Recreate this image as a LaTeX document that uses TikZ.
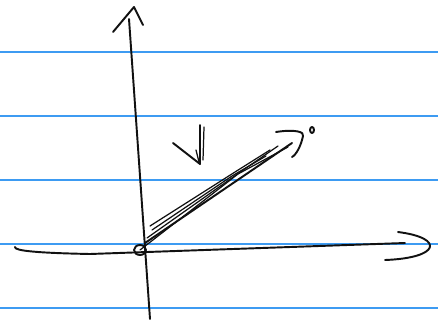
\documentclass[tikz,border=0pt]{standalone}
\usepackage{tikz}
\usetikzlibrary{positioning}
\definecolor{clinea}{HTML}{3D9BF2}
\definecolor{ctinta}{HTML}{111111}
\tikzset{
  renglon/.style={draw=clinea, line width=0.8pt},
  trazo/.style={draw=ctinta, line width=1.1pt, line cap=round, line join=round},
  trazof/.style={draw=ctinta, line width=0.7pt, line cap=round},
}
\begin{document}
\begin{tikzpicture}[x=0.02cm, y=-0.02cm]
  \useasboundingbox (0,0) rectangle (438,324);
  % renglones del cuaderno
  \foreach \y in {52,116,180,244,308}
    \draw[renglon] (0,\y) -- (438,\y);
  % ejes
  \coordinate (o) at (140,250);
  \coordinate (ytop) at (129,19);
  \coordinate (xend) at (405,243);
  \draw[trazo] (150,319) -- (ytop);
  \draw[trazo] (113,32) -- (134,7) -- (143,25);
  \draw[trazo] (15,247) .. controls (14,251) and (40,253) .. (90,254) -- (xend);
  \draw[trazo] (398,232) .. controls (445,238) and (440,258) .. (385,260);
  % origen
  \draw[trazo] (o) ellipse (6 and 5);
  % vector
  \coordinate (vtip) at (292,143);
  \draw[trazo] (145,243) -- (vtip);
  \draw[trazof] (150,226) -- (235,172) -- (270,150);
  \draw[trazof] (147,238) -- (236,175) -- (278,146);
  \draw[trazof] (152,230) -- (232,176) -- (266,156);
  \draw[trazof] (140,250) -- (238,174) -- (288,147);
  \draw[trazo] (276,132) .. controls (295,129) and (305,132) .. (303,136)
    .. controls (301,146) and (296,155) .. (292,157);
  \draw[trazo] (312,130) ellipse (2 and 3);
  % etiqueta v
  \draw[trazo] (173,143) -- (200,164) -- (200,125);
  \draw[trazof] (204,127) -- (203,160);
  \draw[trazof] (196,150) -- (199,162);
\end{tikzpicture}
\end{document}
